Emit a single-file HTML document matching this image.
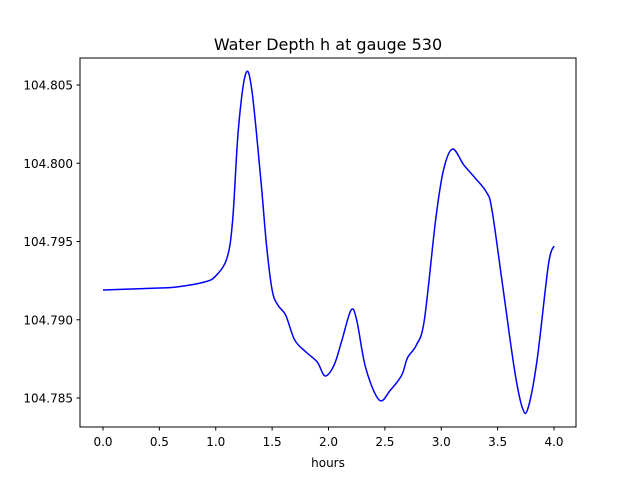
<!DOCTYPE html>
<html><head><meta charset="utf-8"><style>
body{margin:0;background:#fff;}
svg{display:block;font-family:"DejaVu Sans","Liberation Sans",sans-serif;}
</style></head><body>
<svg id="chart" width="640" height="480">
<rect x="0" y="0" width="640" height="480" fill="#fff"/>
<text x="328" y="50" text-anchor="middle" font-size="16">Water Depth h at gauge 530</text>
<g id="plot"></g>
<rect x="80" y="58" width="496" height="369" fill="none" stroke="#000" stroke-width="1"/>
<text x="328" y="467" text-anchor="middle" font-size="12">hours</text>
</svg>
<script>
const hours=[0,0.5,0.65,0.9,1.0,1.1,1.15,1.2,1.265,1.32,1.4,1.45,1.5,1.55,1.62,1.7,1.8,1.9,1.97,2.05,2.12,2.2,2.25,2.33,2.45,2.55,2.65,2.7,2.78,2.85,2.95,3.02,3.1,3.2,3.3,3.4,3.45,3.55,3.65,3.72,3.77,3.85,3.95,4.0];
const depth=[104.7919,104.79203,104.79209,104.79241,104.7928,104.79395,104.79637,104.80212,104.8057,104.80468,104.79893,104.79478,104.7919,104.79094,104.7903,104.78871,104.78794,104.7873,104.78641,104.78711,104.78871,104.79062,104.78998,104.78692,104.78487,104.78551,104.78647,104.78756,104.78839,104.78998,104.79637,104.79957,104.80091,104.79989,104.79906,104.79816,104.79701,104.7919,104.78679,104.78436,104.78436,104.78743,104.7935,104.79471];
const xTicks=[0,0.5,1,1.5,2,2.5,3,3.5,4];
const xTickLabels=["0.0","0.5","1.0","1.5","2.0","2.5","3.0","3.5","4.0"];
const yTicks=[104.785,104.79,104.795,104.8,104.805];
const yTickLabels=["104.785","104.790","104.795","104.800","104.805"];
const NS="http://www.w3.org/2000/svg";
const sx=v=>103+v*112.75;
const sy=v=>85+(104.805-v)*15650;
const g=document.getElementById('plot');
function mk(t,a){const e=document.createElementNS(NS,t);for(const k in a)e.setAttribute(k,a[k]);g.appendChild(e);return e;}
xTicks.forEach((t,i)=>{
 const l=mk('line',{x1:sx(t),x2:sx(t),y1:427,y2:430.5,stroke:'#000'});
 
 
 const tx=mk('text',{x:sx(t),y:446,'text-anchor':'middle','font-size':12});
 tx.textContent=xTickLabels[i];
 
 
});
yTicks.forEach((t,i)=>{
 const l=mk('line',{x1:76.5,x2:80,y1:sy(t),y2:sy(t),stroke:'#000'});
 
 
 const tx=mk('text',{x:73,y:sy(t)+4.5,'text-anchor':'end','font-size':12});
 tx.textContent=yTickLabels[i];
 
 
});
const P=hours.map((h,i)=>[sx(h),sy(depth[i])]);
let d='M'+P[0][0]+','+P[0][1];
for(let i=0;i<P.length-1;i++){
 const p0=P[Math.max(0,i-1)],p1=P[i],p2=P[i+1],p3=P[Math.min(P.length-1,i+2)];
 const c1=[p1[0]+(p2[0]-p0[0])/6,p1[1]+(p2[1]-p0[1])/6];
 const c2=[p2[0]-(p3[0]-p1[0])/6,p2[1]-(p3[1]-p1[1])/6];
 d+=' C'+c1+' '+c2+' '+p2;
}
const path=mk('path',{d:d,fill:'none',stroke:'#0000ff','stroke-width':1.5});


</script>
</body></html>
